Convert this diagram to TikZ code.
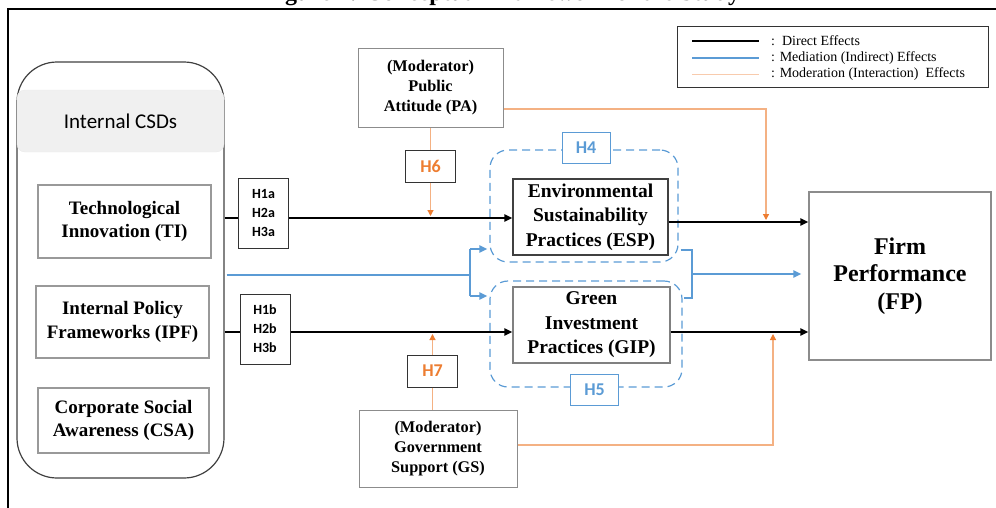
\documentclass[tikz,border=0pt]{standalone}
\usepackage{fontspec}
\setmainfont{Liberation Serif}
\newfontfamily\calfont{Carlito}
\usetikzlibrary{arrows.meta,calc}
\definecolor{myblue}{HTML}{5B9BD5}
\definecolor{myorange}{HTML}{ED7D31}
\definecolor{lightor}{HTML}{F4B183}
\definecolor{paleor}{HTML}{F8CBAD}
\definecolor{hdrgray}{HTML}{F0F0F0}
\begin{document}
\begin{tikzpicture}[x=1pt,y=-1pt,
  cbox/.style={draw=black!40, line width=1.2pt, fill=white, inner sep=0pt, align=center, font=\bfseries\fontsize{19}{23.5}\selectfont},
  hbox/.style={draw=black!80, line width=1pt, fill=white, inner sep=0pt, align=center, minimum width=50, font=\calfont\bfseries\fontsize{14}{19}\selectfont},
  obox/.style={hbox, text=myorange, font=\calfont\bfseries\fontsize{18}{18}\selectfont, minimum height=32},
  modbox/.style={draw=black!45, line width=1pt, fill=white, inner sep=0pt, align=center, font=\bfseries\fontsize{16.3}{20}\selectfont},
  dashbox/.style={draw=myblue, line width=1.2pt, dash pattern=on 8pt off 5pt, rounded corners=18pt, inner sep=0pt},
  blabel/.style={draw=myblue, line width=1pt, fill=white, text=myblue, inner sep=0pt, font=\calfont\bfseries\fontsize{18}{18}\selectfont, minimum width=48, minimum height=31},
  directline/.style={line width=2.2pt},
  direct/.style={directline, -{Triangle[length=8pt,width=7pt]}},
  medi/.style={draw=myblue, line width=2.2pt},
  mediarrow/.style={medi, -{Triangle[length=8pt,width=7pt]}},
  modline/.style={draw=lightor, line width=1.2pt},
  modarrow/.style={modline, -{Triangle[length=6pt,width=6pt,color=myorange]}, shorten >=2pt},
  legtext/.style={anchor=west, inner sep=0pt, font=\fontsize{14}{14}\selectfont},
]
\useasboundingbox (0,0) rectangle (996,507);
\begin{scope}
\clip (0,0) rectangle (996,507);
\node[anchor=base, inner sep=0pt, font=\bfseries\fontsize{24}{24}\selectfont] (title) at (502,0) {Figure 1: Conceptual Framework of the Study};
\draw[line width=2.4pt] (8,520) -- (8,9) -- (1010,9);
\end{scope}

% left container
\node[draw=black!75, line width=1.2pt, rounded corners=40pt, minimum width=207, minimum height=416, inner sep=0pt] (cont) at (120.5,270) {};
\node[fill=hdrgray, draw=black!8, rounded corners=8pt, minimum width=207, minimum height=62, inner sep=0pt, font=\calfont\fontsize{21}{21}\selectfont] (hdr) at (120.5,121) {Internal CSDs};
\node[cbox, minimum width=173, minimum height=73] (TI) at (124.5,221.5) {Technological\\Innovation (TI)};
\node[cbox, minimum width=173, minimum height=72] (IPF) at (122.5,322) {Internal Policy\\Frameworks (IPF)};
\node[cbox, minimum width=171, minimum height=65] (CSA) at (123.5,420.5) {Corporate Social\\Awareness (CSA)};

% hypothesis boxes
\node[hbox, minimum height=70] (H1a) at (263.5,213) {H1a\\H2a\\H3a};
\node[hbox, minimum height=70] (H1b) at (265,329) {H1b\\H2b\\H3b};

% mediation dashed groups
\node[dashbox, minimum width=188, minimum height=112] (H4b) at (584,206) {};
\node[dashbox, minimum width=192, minimum height=106] (H5b) at (586,334) {};
\node[blabel] (H4) at (586,147.5) {H4};
\node[blabel] (H5) at (594.5,390) {H5};

% mediators and outcome
\node[cbox, draw=black!75, minimum width=155, minimum height=76, font=\bfseries\fontsize{19.5}{24.5}\selectfont] (ESP) at (590.5,217) {Environmental\\Sustainability\\Practices (ESP)};
\node[cbox, draw=black!50, minimum width=157, minimum height=76, font=\bfseries\fontsize{19.5}{24.5}\selectfont] (GIP) at (591.5,325) {Green\\Investment\\Practices (GIP)};
\node[cbox, draw=black!45, minimum width=182, minimum height=168, font=\bfseries\fontsize{24}{27.5}\selectfont] (FP) at (900,276) {Firm\\Performance\\(FP)};

% moderators
\node[modbox, minimum width=145, minimum height=79] (PA) at (430.5,87.5) {(Moderator)\\Public\\Attitude (PA)};
\node[obox] (H6) at (430.5,166) {H6};
\node[modbox, minimum width=158, minimum height=77] (GS) at (438,448.5) {(Moderator)\\Government\\Support (GS)};
\node[obox] (H7) at (432.5,371) {H7};

% legend
\node[draw=black!80, line width=1pt, minimum width=311, minimum height=61, inner sep=0pt] (leg) at (832.5,56.5) {};
\node[legtext] (lt1) at (771,41) {:\ \ Direct Effects};
\node[legtext] (lt2) at (771,58) {: Mediation (Indirect) Effects};
\node[legtext] (lt3) at (771,74) {: Moderation (Interaction)\ \ Effects};
\draw[line width=2.2pt] ([xshift=-79pt]lt1.west) -- ([xshift=-12pt]lt1.west);
\draw[medi, line width=2.6pt] ([xshift=-79pt]lt2.west) -- ([xshift=-12pt]lt2.west);
\draw[draw=paleor, line width=1pt] ([xshift=-79pt]lt3.west) -- ([xshift=-12pt]lt3.west);

% row coordinates
\coordinate (r1) at (0,218);
\coordinate (r1b) at (0,222);
\coordinate (r2) at (0,332);

% direct effects
\draw[directline] (cont.east |- r1) -- (H1a.west |- r1);
\draw[direct] (H1a.east |- r1) -- (ESP.west |- r1);
\draw[directline] (cont.east |- r2) -- (H1b.west |- r2);
\draw[direct] (H1b.east |- r2) -- (GIP.west |- r2);
\draw[direct] (ESP.east |- r1b) -- (FP.west |- r1b);
\draw[direct] (GIP.east |- r2) -- (FP.west |- r2);

% mediation
\coordinate (bj) at (470,275);
\coordinate (bt) at (470,249);
\coordinate (bb) at (470,296);
\draw[medi] ([xshift=2pt]cont.east |- bj) -- (bj);
\draw[medi] (bt) -- (bb);
\draw[mediarrow] (bt) -- ([xshift=-2pt]H4b.west |- bt);
\draw[mediarrow] (bb) -- ([xshift=-2pt]H5b.west |- bb);
\coordinate (rt) at (692,250);
\coordinate (rb) at (692,298);
\coordinate (rm) at (692,274);
\draw[medi] ([xshift=2pt]H4b.east |- rt) -- (rt) -- (rb) -- ([xshift=1pt]H5b.east |- rb);
\draw[mediarrow] (rm) -- ([xshift=-7pt]FP.west |- rm);

% moderation
\draw[modline] (PA.south) -- (H6.north);
\draw[modarrow] (H6.south) -- (H6.south |- r1);
\coordinate (m1) at (766,109);
\draw[modarrow] (PA.east |- m1) -- (m1) -- (m1 |- r1b);
\draw[modline] (H7.south) -- (H7.south |- GS.north);
\draw[modarrow] (H7.north) -- (H7.north |- r2);
\coordinate (m2) at (773,445);
\draw[modarrow] (GS.east |- m2) -- (m2) -- (m2 |- r2);
\end{tikzpicture}
\end{document}
